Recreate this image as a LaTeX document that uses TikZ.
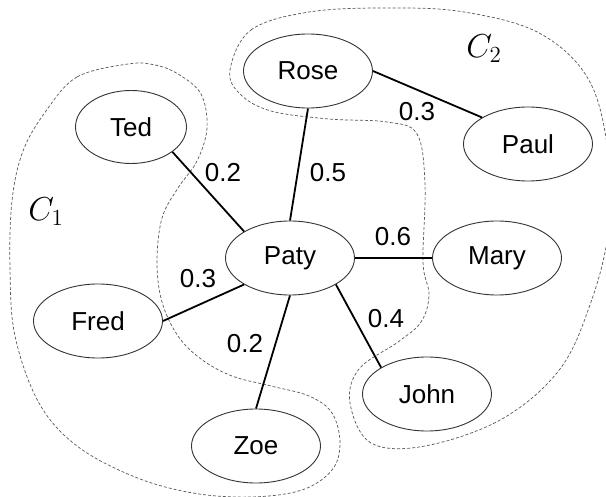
\documentclass[tikz,border=0pt]{standalone}
\usepackage{fontspec}
\setmainfont{Liberation Sans}
\usetikzlibrary{shapes}

\begin{document}
\begin{tikzpicture}[x=1pt, y=-1pt]

 \tikzset{
    person/.style={
      ellipse,
      minimum width=129pt,
      minimum height=74pt,
      inner sep=0pt,
      draw=black!80,
      line width=0.9pt,
      font=\fontsize{26}{30}\selectfont
    },
    link/.style={line width=1.8pt},
    weight/.style={font=\fontsize{26}{30}\selectfont, inner sep=0pt},
    tag/.style={font=\huge, scale=1.6, inner sep=0pt},
    group/.style={draw=black!65, line width=0.7pt, dash pattern=on 3pt off 2pt}
  }

\useasboundingbox (0,0) rectangle (606,497);
\fill[white] (0,0) rectangle (606,497);

% communities
\draw[group] plot[smooth cycle, tension=0.6] coordinates {
  (230,70) (251,30) (309,12) (387,8) (464,12) (541,34) (591,84)
  (610,168) (608,235) (591,302) (560,369) (502,419) (425,446)
  (371,443) (350,403) (359,369) (398,342) (421,322) (429,295)
  (423,262) (425,185) (417,134) (387,122) (329,119) (271,111) (240,94)};

\draw[group] plot[smooth cycle, tension=0.6] coordinates {
  (128,64) (77,77) (46,111) (23,151) (12,201) (10,268) (15,336)
  (39,403) (77,446) (135,477) (193,493) (251,497) (302,490)
  (332,470) (340,443) (332,413) (309,396) (271,386) (232,376)
  (201,359) (178,336) (162,302) (157,262) (162,218) (178,188)
  (197,161) (207,128) (201,94) (178,74) (155,65)};

\node[tag] (c1) at (46,212) {$C_1$};
\node[tag] (c2) at (484,49) {$C_2$};

% people
\node[person] (paty) at (290,258) {Paty};
\node[person] (rose) at (308,71) {Rose};
\node[person, minimum width=111pt, minimum height=73pt] (ted) at (131,127) {Ted};
\node[person] (paul) at (528,144) {Paul};
\node[person] (mary) at (497,258) {Mary};
\node[person] (fred) at (98,321) {Fred};
\node[person] (john) at (427,394) {John};
\node[person] (zoe) at (256,446) {Zoe};

% ties
\draw[link] (ted.-31) -- (paty.150);
\draw[link] (rose.south) -- (paty.north);
\draw[link] (rose.east) -- (paul.150);
\draw[link] (paty.east) -- (mary.west);
\draw[link] (paty.210) -- (fred.east);
\draw[link] (paty.south) -- (zoe.north);
\draw[link] (paty.-30) -- (john.150);

\node[weight] (w1) at (223,173) {0.2};
\node[weight] (w2) at (328,173) {0.5};
\node[weight] (w3) at (417,112) {0.3};
\node[weight] (w4) at (393,237) {0.6};
\node[weight] (w5) at (198,279) {0.3};
\node[weight] (w6) at (245,344) {0.2};
\node[weight] (w7) at (386,319) {0.4};

\end{tikzpicture}
\end{document}
